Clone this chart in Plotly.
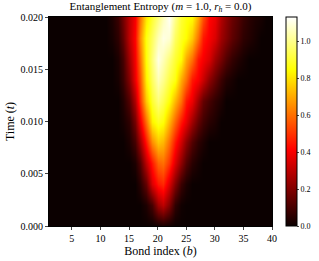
import plotly.graph_objects as go

bonds = list(range(1, 41))
times = [0.000, 0.002, 0.004, 0.006, 0.008, 0.010, 0.012, 0.014, 0.016, 0.018, 0.020]

# entropy per bond (b = 1..40) for each time row
S_t000 = [0]*19 + [0.01, 0.02, 0.01] + [0]*18
S_t002 = [0]*17 + [0.03, 0.10, 0.25, 0.30, 0.20, 0.06, 0.01] + [0]*16
S_t004 = [0]*16 + [0.05, 0.15, 0.35, 0.45, 0.48, 0.35, 0.20, 0.08, 0.03] + [0]*15
S_t006 = [0]*15 + [0.03, 0.12, 0.30, 0.45, 0.58, 0.60, 0.50, 0.35, 0.22, 0.12, 0.05, 0.02] + [0]*13
S_t008 = [0]*14 + [0.03, 0.10, 0.25, 0.45, 0.65, 0.75, 0.72, 0.60, 0.45, 0.33, 0.22, 0.12, 0.06, 0.03] + [0]*12
S_t010 = [0]*13 + [0.02, 0.06, 0.18, 0.38, 0.60, 0.82, 0.88, 0.85, 0.72, 0.58, 0.45, 0.37, 0.25, 0.15, 0.09, 0.05, 0.03] + [0]*10
S_t012 = [0]*13 + [0.04, 0.12, 0.28, 0.50, 0.75, 0.90, 0.98, 0.93, 0.85, 0.72, 0.60, 0.45, 0.38, 0.25, 0.15, 0.10, 0.06, 0.03] + [0]*9
S_t014 = [0]*12 + [0.02, 0.08, 0.20, 0.38, 0.55, 0.82, 0.95, 1.05, 1.00, 0.92, 0.86, 0.70, 0.60, 0.45, 0.40, 0.32, 0.22, 0.15, 0.08, 0.04, 0.02] + [0]*7
S_t016 = [0]*12 + [0.03, 0.10, 0.25, 0.40, 0.60, 0.85, 0.98, 1.10, 1.05, 0.98, 0.90, 0.84, 0.70, 0.60, 0.45, 0.40, 0.35, 0.25, 0.18, 0.12, 0.07, 0.04, 0.02] + [0]*5
S_t018 = [0]*11 + [0.02, 0.06, 0.15, 0.30, 0.42, 0.65, 0.86, 0.95, 1.05, 1.10, 1.08, 0.95, 0.88, 0.84, 0.75, 0.60, 0.45, 0.40, 0.35, 0.25, 0.20, 0.14, 0.10, 0.06, 0.04, 0.02] + [0]*3
S_t020 = [0]*11 + [0.03, 0.08, 0.18, 0.30, 0.40, 0.60, 0.80, 0.90, 0.98, 1.05, 1.12, 1.00, 0.90, 0.86, 0.84, 0.70, 0.55, 0.42, 0.38, 0.28, 0.22, 0.16, 0.12, 0.08, 0.05, 0.03, 0.02] + [0]*2

Z = [S_t000, S_t002, S_t004, S_t006, S_t008, S_t010, S_t012, S_t014, S_t016, S_t018, S_t020]

x_ticks = [5, 10, 15, 20, 25, 30, 35, 40]
y_ticks = [0.000, 0.005, 0.010, 0.015, 0.020]
cb_ticks = [0.0, 0.2, 0.4, 0.6, 0.8, 1.0]

hot = [[0.0, "rgb(11,0,0)"], [0.365079, "rgb(255,0,0)"],
       [0.746032, "rgb(255,255,0)"], [1.0, "rgb(255,255,255)"]]

font = dict(family="Liberation Serif, Times New Roman, serif", size=10, color="black")

fig = go.Figure(go.Heatmap(
    x=bonds, y=times, z=Z, zsmooth="best", colorscale=hot, zmin=0, zmax=1.13,
    colorbar=dict(x=286 / 319, xanchor="left", xref="container",
                  y=0.5, yanchor="middle", yref="paper",
                  len=1, lenmode="fraction", thickness=11, outlinewidth=1, outlinecolor="black",
                  tickvals=cb_ticks, tickformat=".1f", ticks="outside", ticklen=2,
                  tickfont=dict(size=8), ypad=0, xpad=0),
))

fig.update_layout(
    width=319, height=261, margin=dict(l=49, r=47, t=17, b=35, autoexpand=False),
    paper_bgcolor="white", plot_bgcolor="black", font=font,
    title=dict(text="Entanglement Entropy (<i>m</i> = 1.0, <i>r<sub>h</sub></i> = 0.0)",
               x=0.5, xref="paper", xanchor="center", y=1, yref="container",
               yanchor="top", pad=dict(t=2), font=dict(size=11)),
)
fig.update_xaxes(range=[1, 40], tickvals=x_ticks, ticks="outside", ticklen=3,
                 showline=True, linecolor="black", mirror=True, showgrid=False, zeroline=False,
                 title=dict(text="Bond index (<i>b</i>)", standoff=3))
fig.update_yaxes(range=[0, 0.02], tickvals=y_ticks, tickformat=".3f", ticks="outside", ticklen=3,
                 showline=True, linecolor="black", mirror=True, showgrid=False, zeroline=False,
                 title=dict(text="Time (<i>t</i>)", standoff=3))

fig.write_html("out.html", config={"displayModeBar": False},
               post_script="document.body.style.margin='0';")
